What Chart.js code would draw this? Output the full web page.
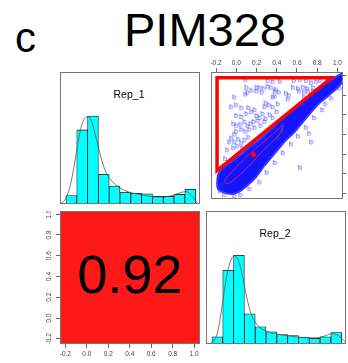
<!DOCTYPE html>
<html>
<head>
<meta charset="utf-8">
<script src="https://cdn.jsdelivr.net/npm/chart.js@4.4.1/dist/chart.umd.min.js"></script>
<style>
  body { margin: 0; background: #fff; width: 348px; height: 363px; overflow: hidden; position: relative; font-family: "Liberation Sans", Arial, sans-serif; }
  canvas { position: absolute; }
  .lbl { position: absolute; color: #000; white-space: nowrap; }
</style>
</head>
<body>
<div class="lbl" style="left:15px; top:17px; font-size:42px; line-height:42px;">c</div>
<div class="lbl" style="left:0; width:410px; text-align:center; top:6px; font-size:47px; line-height:47px;">PIM328</div>
<canvas id="hist1" width="140" height="132" style="left:60px; top:72px;"></canvas>
<canvas id="scatter" width="142" height="149" style="left:206px; top:55px;"></canvas>
<canvas id="corr" width="160" height="152" style="left:40px; top:211px;"></canvas>
<canvas id="hist2" width="140" height="133" style="left:206px; top:211px;"></canvas>
<script>
// === values ===
const binMids = [-0.15, -0.05, 0.05, 0.15, 0.25, 0.35, 0.45, 0.55, 0.65, 0.75, 0.85, 0.95];
const rep1Density = [0.29, 2.55, 3.03, 1.02, 0.62, 0.40, 0.37, 0.35, 0.26, 0.26, 0.33, 0.51];
const rep2Density = [0.26, 2.64, 3.18, 1.08, 0.62, 0.44, 0.34, 0.30, 0.25, 0.20, 0.26, 0.41];

const rep1CurveX = [-0.265, -0.203, -0.156, -0.110, -0.063, -0.017, 0.008, 0.039, 0.076, 0.123, 0.169, 0.231, 0.309, 0.402, 0.510, 0.603, 0.696, 0.789, 0.867, 0.913, 0.960, 1.007, 1.028];
const rep1CurveY = [0, 0.18, 0.70, 1.62, 2.60, 2.98, 3.00, 2.83, 2.31, 1.62, 1.10, 0.76, 0.53, 0.39, 0.31, 0.25, 0.24, 0.30, 0.40, 0.43, 0.30, 0.07, 0];
const rep2CurveX = [-0.246, -0.194, -0.147, -0.107, -0.070, -0.030, 0.007, 0.044, 0.084, 0.121, 0.161, 0.223, 0.300, 0.408, 0.531, 0.640, 0.748, 0.840, 0.902, 0.948, 1.010, 1.047];
const rep2CurveY = [0, 0.07, 0.43, 1.33, 2.29, 2.95, 3.16, 3.01, 2.41, 1.69, 1.09, 0.67, 0.47, 0.35, 0.28, 0.23, 0.22, 0.28, 0.37, 0.35, 0.16, 0.04];

const tickValues = [-0.2, 0.0, 0.2, 0.4, 0.6, 0.8, 1.0];
const corrValue = 0.92;

// scatter: single points (Rep_1 on x, Rep_2 on y)
const sparseX = [
  0.09, 0.31, 0.36, 0.43, 0.57, 0.63, 0.69, 0.74, 0.79, 0.83,
  0.10, 0.20, 0.23, 0.27, 0.31, 0.34, 0.39, 0.56, 0.61, 0.66,
  0.70, 0.76, 0.62, 0.76, 0.09, 0.11, 0.15, 0.20, 0.25, 0.38,
  0.42, 0.49, 0.52, 0.67, 0.71, 0.51, -0.02, 0.36, 0.38, 0.67,
  0.88, -0.05, 0.00, 0.05, 0.12, 0.18, 0.28, 0.32, 0.36, 0.41,
  0.29, 0.00, 0.05, 0.10, 0.15, 0.20, 0.23, 0.26, 0.29, 0.33,
  0.36, 0.40, -0.03, 0.00, 0.04, 0.08, 0.11, 0.14, 0.17, 0.21,
  0.24, 0.28, 0.00, 0.05, 0.09, 0.13, 0.18, -0.02, -0.05, -0.02,
  0.02, 0.05, 0.08, 0.12, -0.07, -0.09, -0.03, 0.01, 0.06, -0.11,
  -0.08, 0.72, 0.74, 0.63, 0.45, 0.46, 0.42,
  -0.15, -0.16, -0.12, -0.02, 0.04, 0.13, 0.23, 0.30, 0.38, 0.46, 0.54, 0.61, 0.69, 0.77, 0.85, 0.94, 1.02,
  -0.12, -0.01, 0.09, 0.18, 0.27, 0.37, 0.46, 0.55, 0.65, 0.74, 0.83, 0.93
];
const sparseY = [
  0.97, 0.96, 0.95, 0.95, 0.96, 0.97, 0.96, 0.94, 0.95, 0.96,
  0.89, 0.89, 0.89, 0.88, 0.90, 0.89, 0.87, 0.89, 0.88, 0.89,
  0.88, 0.89, 0.85, 0.85, 0.82, 0.84, 0.86, 0.85, 0.84, 0.85,
  0.84, 0.83, 0.81, 0.84, 0.85, 0.77, 0.79, 0.79, 0.80, 0.79,
  0.72, 0.69, 0.71, 0.68, 0.68, 0.66, 0.69, 0.71, 0.69, 0.72,
  0.73, 0.60, 0.59, 0.62, 0.64, 0.60, 0.58, 0.62, 0.57, 0.61,
  0.58, 0.64, 0.52, 0.50, 0.51, 0.54, 0.50, 0.52, 0.54, 0.55,
  0.50, 0.54, 0.44, 0.46, 0.44, 0.46, 0.48, 0.41, 0.37, 0.33,
  0.36, 0.32, 0.35, 0.38, 0.33, 0.25, 0.27, 0.29, 0.27, 0.16,
  0.12, 0.42, 0.33, 0.07, 0.45, 0.51, 0.38,
  -0.11, -0.17, -0.21, -0.22, -0.21, -0.15, -0.08, 0.02, 0.12, 0.22, 0.31, 0.39, 0.48, 0.58, 0.66, 0.78, 0.88,
  0.07, 0.15, 0.22, 0.30, 0.38, 0.48, 0.56, 0.64, 0.72, 0.81, 0.88, 0.94
];

// outline of the dense cloud of points
const bandX = [-0.19, -0.18, -0.13, -0.05, 0.04, 0.13, 0.23, 0.32, 0.41, 0.50, 0.60, 0.69, 0.78, 0.88, 0.97, 1.04,
  1.06, 1.03, 0.97, 0.89, 0.81, 0.74, 0.66, 0.58, 0.50, 0.43, 0.35, 0.27, 0.20, 0.10, 0.02, -0.05, -0.13, -0.18, -0.19];
const bandY = [-0.11, -0.01, 0.06, 0.12, 0.19, 0.27, 0.35, 0.43, 0.52, 0.60, 0.68, 0.76, 0.85, 0.92, 0.98, 1.02,
  0.98, 0.91, 0.85, 0.78, 0.71, 0.63, 0.53, 0.43, 0.35, 0.27, 0.17, 0.07, -0.03, -0.13, -0.19, -0.21, -0.19, -0.16, -0.11];

const ellipseX = [-0.11, -0.05, 0.04, 0.13, 0.23, 0.32, 0.40, 0.45, 0.46, 0.44, 0.36, 0.26, 0.17, 0.08, -0.02, -0.08, -0.11, -0.11];
const ellipseY = [-0.06, 0.01, 0.11, 0.20, 0.29, 0.37, 0.44, 0.49, 0.48, 0.42, 0.33, 0.23, 0.13, 0.03, -0.06, -0.10, -0.09, -0.06];
const centerX = [0.17];
const centerY = [0.195];
const triangleX = [-0.19, 0.94, -0.19, -0.19];
const triangleY = [0.98, 0.98, 0.03, 0.98];

// axis limits
const X_MIN = -0.25, X_MAX = 1.055;
const H_MIN = -0.255, H_MAX = 1.04;

const pts = (xs, ys) => xs.map((x, i) => ({ x, y: ys[i] }));

Chart.defaults.font.family = '"Liberation Sans", Arial, sans-serif';
Chart.defaults.animation = false;
Chart.defaults.responsive = false;
Chart.defaults.devicePixelRatio = 1;
Chart.defaults.plugins.legend.display = false;
Chart.defaults.plugins.tooltip.enabled = false;

// frame, background and panel text
const panelPlugin = {
  id: 'panel',
  defaults: { fill: null, label: null, labelSize: 10.5, labelDy: 23, big: null },
  beforeDatasetsDraw(chart, args, o) {
    const a = chart.chartArea, ctx = chart.ctx;
    if (o.fill) { ctx.save(); ctx.fillStyle = o.fill; ctx.fillRect(a.left, a.top, a.width, a.height); ctx.restore(); }
  },
  afterDraw(chart, args, o) {
    const a = chart.chartArea, ctx = chart.ctx;
    ctx.save();
    ctx.strokeStyle = '#777';
    ctx.lineWidth = 1;
    ctx.strokeRect(a.left + 0.5, a.top + 0.5, a.width - 1, a.height - 1);
    ctx.fillStyle = '#000';
    ctx.textAlign = 'center';
    ctx.textBaseline = 'middle';
    if (o.label) {
      ctx.font = o.labelSize + 'px "Liberation Sans", Arial, sans-serif';
      ctx.fillText(o.label, (a.left + a.right) / 2 - 1, a.top + o.labelDy);
    }
    if (o.big) {
      ctx.font = '54px "Liberation Sans", Arial, sans-serif';
      ctx.fillText(o.big, (a.left + a.right) / 2, (a.top + a.bottom) / 2 + 1);
    }
    ctx.restore();
  }
};
Chart.register(panelPlugin);

const fixedTicks = s => { s.ticks = tickValues.map(v => ({ value: v })); };
const tickFont = { size: 6.5 };
const tickColor = '#444';

// small "b" glyph used as point marker
function glyph(color) {
  const c = document.createElement('canvas');
  c.width = 6; c.height = 8;
  const g = c.getContext('2d');
  g.fillStyle = color;
  g.font = '7px "Liberation Sans", Arial, sans-serif';
  g.textBaseline = 'alphabetic';
  g.fillText('b', 1, 6.5);
  return c;
}

// === histograms on the diagonal ===
function histChart(id, density, cx, cy, label) {
  new Chart(document.getElementById(id), {
    type: 'bar',
    data: {
      datasets: [
        { type: 'line', data: pts(cx, cy), borderColor: '#555', borderWidth: 0.8, pointRadius: 0, cubicInterpolationMode: 'monotone', order: 0 },
        { type: 'bar', data: pts(binMids, density), backgroundColor: '#00ffff', borderColor: '#1a1a1a', borderWidth: 0.8, borderSkipped: false, barPercentage: 1, categoryPercentage: 1, order: 1 }
      ]
    },
    options: {
      layout: { padding: 0 },
      scales: {
        x: { type: 'linear', display: false, min: H_MIN, max: H_MAX, offset: false },
        y: { display: false, min: 0, max: Math.max(...density) * 1.5 }
      },
      plugins: { panel: { label } }
    }
  });
}
histChart('hist1', rep1Density, rep1CurveX, rep1CurveY, 'Rep_1');
histChart('hist2', rep2Density, rep2CurveX, rep2CurveY, 'Rep_2');

// === scatter (upper panel) ===
new Chart(document.getElementById('scatter'), {
  type: 'scatter',
  data: {
    datasets: [
      { data: pts(triangleX, triangleY), showLine: true, borderColor: '#ff0000', borderWidth: 3.5, pointRadius: 0, borderJoinStyle: 'miter', borderCapStyle: 'square', order: 0 },
      { data: pts(centerX, centerY), pointRadius: 2.6, backgroundColor: '#ff0000', borderWidth: 0, order: 1 },
      { data: pts(ellipseX, ellipseY), showLine: true, borderColor: '#ff3030', borderWidth: 0.7, tension: 0.4, pointRadius: 0, order: 2 },
      { data: pts(sparseX, sparseY), pointStyle: glyph('#3a3aff'), pointRadius: 3, order: 3 },
      { data: pts(bandX, bandY), showLine: true, fill: 'shape', backgroundColor: '#1414ff', borderColor: '#3a3aff', borderWidth: 2, pointRadius: 0, tension: 0.2, order: 4 }
    ]
  },
  options: {
    layout: { padding: 0 },
    scales: {
      x: {
        type: 'linear', position: 'top', min: X_MIN, max: X_MAX,
        afterBuildTicks: fixedTicks,
        afterFit: s => { s.height = 17; s.paddingLeft = 0; s.paddingRight = 0; },
        grid: { drawOnChartArea: false, tickLength: 4, color: '#666' },
        border: { display: false },
        ticks: { font: tickFont, color: tickColor, padding: 1, maxRotation: 0, autoSkip: false, callback: v => v.toFixed(1) }
      },
      y: {
        type: 'linear', position: 'right', min: -0.26, max: 1.04,
        afterBuildTicks: fixedTicks,
        afterFit: s => { s.width = 2; s.paddingTop = 0; s.paddingBottom = 0; },
        grid: { drawOnChartArea: false, tickLength: 3, color: '#666' },
        border: { display: false },
        ticks: { display: false }
      }
    }
  }
});

// === correlation (lower panel) ===
new Chart(document.getElementById('corr'), {
  type: 'scatter',
  data: { datasets: [{ data: [] }] },
  options: {
    layout: { padding: 0 },
    scales: {
      x: {
        type: 'linear', position: 'bottom', min: X_MIN, max: X_MAX,
        afterBuildTicks: fixedTicks,
        afterFit: s => { s.height = 19; s.paddingLeft = 0; s.paddingRight = 0; },
        grid: { drawOnChartArea: false, tickLength: 4, color: '#666' },
        border: { display: false },
        ticks: { font: tickFont, color: tickColor, padding: 2, maxRotation: 0, autoSkip: false, callback: v => v.toFixed(1) }
      },
      y: {
        type: 'linear', position: 'left', min: -0.25, max: 1.03,
        afterBuildTicks: fixedTicks,
        afterFit: s => { s.width = 20; s.paddingTop = 0; s.paddingBottom = 0; },
        grid: { drawOnChartArea: false, tickLength: 4, color: '#666' },
        border: { display: false },
        ticks: { font: tickFont, color: tickColor, padding: 1, minRotation: 90, maxRotation: 90, crossAlign: 'center', autoSkip: false, callback: v => v.toFixed(1) }
      }
    },
    plugins: { panel: { fill: '#ff1818', big: corrValue.toFixed(2) } }
  }
});
</script>
</body>
</html>
